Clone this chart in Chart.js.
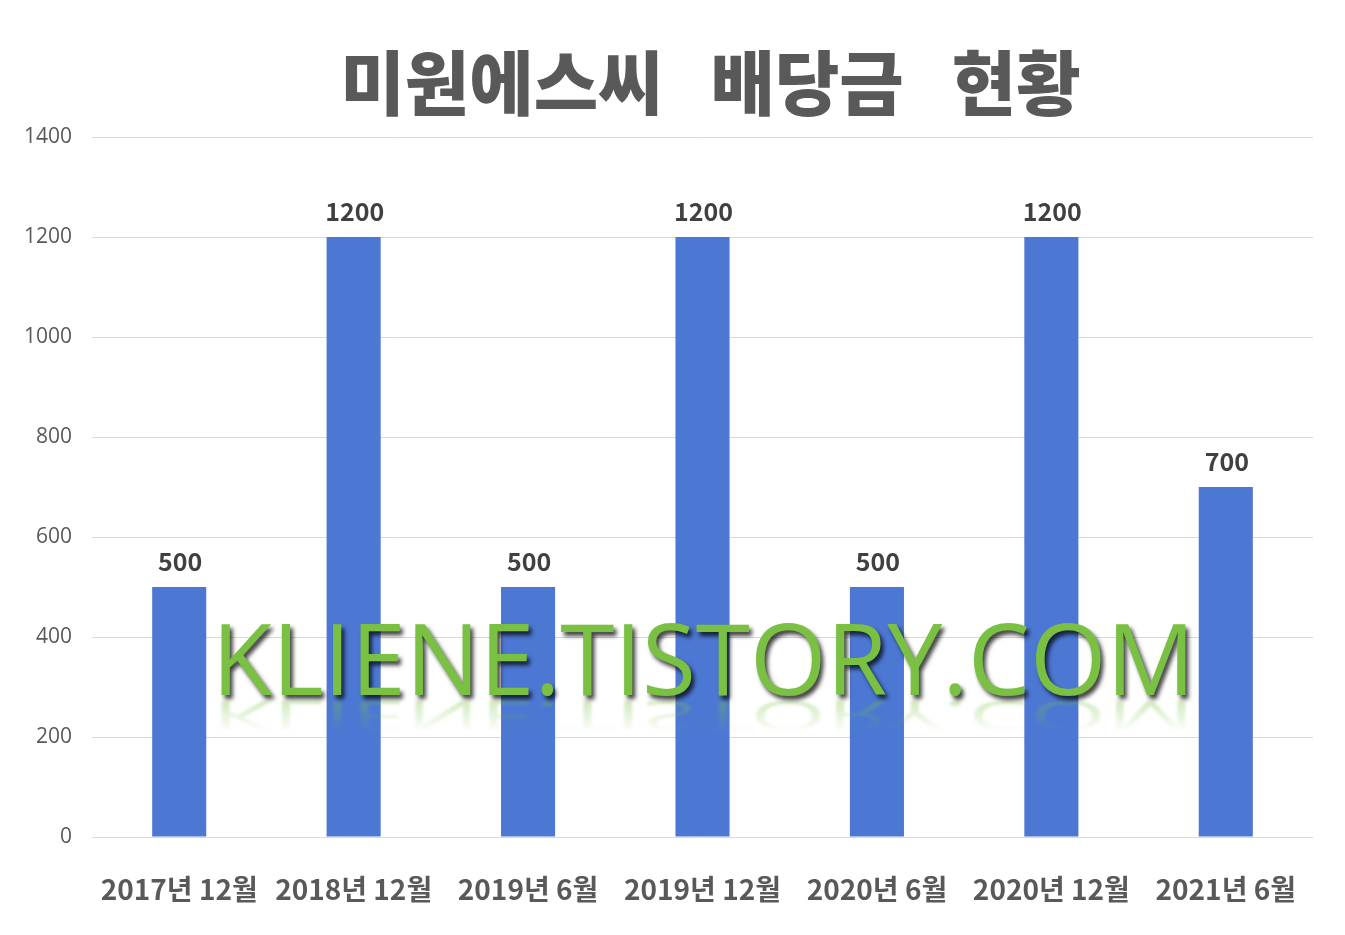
<!DOCTYPE html>
<html>
<head>
<meta charset="utf-8">
<script src="https://cdn.jsdelivr.net/npm/chart.js@4"></script>
<style>
  html, body { margin: 0; padding: 0; background: #fff; }
  #wrap { width: 1345px; height: 935px; }
</style>
</head>
<body>
<div id="wrap"><canvas id="divChart"></canvas></div>
<script>
// 배당 지급 시점
const labels = ["2017년 12월", "2018년 12월", "2019년 6월", "2019년 12월", "2020년 6월", "2020년 12월", "2021년 6월"];
// 주당 배당금 (원)
const dividends = [500, 1200, 500, 1200, 500, 1200, 700];
const yTicks = [0, 200, 400, 600, 800, 1000, 1200, 1400];

const titleText = "미원에스씨   배당금   현황";
const watermark = "KLIENE.TISTORY.COM";

const krFont = "'Noto Sans CJK KR', 'Noto Sans', sans-serif";

// 막대 위 값 표시
const valueLabels = {
  id: "valueLabels",
  afterDatasetsDraw(chart) {
    const ctx = chart.ctx;
    const meta = chart.getDatasetMeta(0);
    ctx.save();
    ctx.font = "bold 25px " + krFont;
    ctx.fillStyle = "#404040";
    ctx.textAlign = "center";
    ctx.textBaseline = "middle";
    meta.data.forEach((bar, i) => {
      ctx.fillText(String(dividends[i]), bar.x + 1, bar.y - 26);
    });
    ctx.restore();
  }
};

// 워터마크
const watermarkText = {
  id: "watermarkText",
  afterDraw(chart) {
    const ctx = chart.ctx;
    const left = 212, right = 1195, base = 695;
    const fam = "'Open Sans', 'Noto Sans', sans-serif";
    ctx.save();
    let size = 100;
    ctx.font = size + "px " + fam;
    const w = ctx.measureText(watermark).width;
    size = size * (right - left) / w;
    ctx.font = size + "px " + fam;
    ctx.textAlign = "left";
    ctx.textBaseline = "alphabetic";

    // 반사
    ctx.save();
    ctx.translate(0, base + 6);
    ctx.scale(1, -0.4);
    const grad = ctx.createLinearGradient(0, 0, 0, -size * 0.8);
    grad.addColorStop(0, "rgba(122,193,67,0.35)");
    grad.addColorStop(1, "rgba(122,193,67,0)");
    ctx.fillStyle = grad;
    ctx.filter = "blur(1.5px)";
    ctx.fillText(watermark, left, 0);
    ctx.restore();

    ctx.shadowColor = "rgba(0,0,0,0.75)";
    ctx.shadowOffsetX = 3;
    ctx.shadowOffsetY = 4;
    ctx.shadowBlur = 4;
    ctx.fillStyle = "#7ac143";
    ctx.fillText(watermark, left, base);
    ctx.restore();
  }
};

new Chart(document.getElementById("divChart"), {
  type: "bar",
  data: {
    labels,
    datasets: [{
      data: dividends,
      backgroundColor: "#4C78D4",
      borderWidth: 0,
      barPercentage: 0.62,
      categoryPercentage: 0.5
    }]
  },
  options: {
    responsive: true,
    maintainAspectRatio: false,
    animation: false,
    layout: { padding: { left: 0, right: 32, top: 0, bottom: 31 } },
    plugins: {
      legend: { display: false },
      tooltip: { enabled: false },
      title: {
        display: true,
        fullSize: false,
        text: " " + titleText,
        color: "#595959",
        font: { family: krFont, size: 70, weight: "900", lineHeight: 1.1 },
        padding: { top: 45, bottom: 15 }
      }
    },
    scales: {
      x: {
        grid: { display: false },
        border: { display: false },
        ticks: {
          color: "#595959",
          font: { family: krFont, size: 28, weight: "bold", lineHeight: 1.2 },
          padding: 28,
          maxRotation: 0,
          autoSkip: false
        },
        afterFit(scale) { scale.height = 67; }
      },
      y: {
        min: 0,
        max: 1400,
        afterBuildTicks(scale) { scale.ticks = yTicks.map(v => ({ value: v })); },
        grid: { color: "#d9d9d9", lineWidth: 1, drawTicks: false },
        border: { display: false },
        ticks: {
          color: "#595959",
          font: { family: "'Open Sans', 'Noto Sans', sans-serif", size: 21 },
          padding: 20,
          callback: v => String(v)
        },
        afterFit(scale) { scale.width = 92; }
      }
    }
  },
  plugins: [valueLabels, watermarkText]
});
</script>
</body>
</html>
